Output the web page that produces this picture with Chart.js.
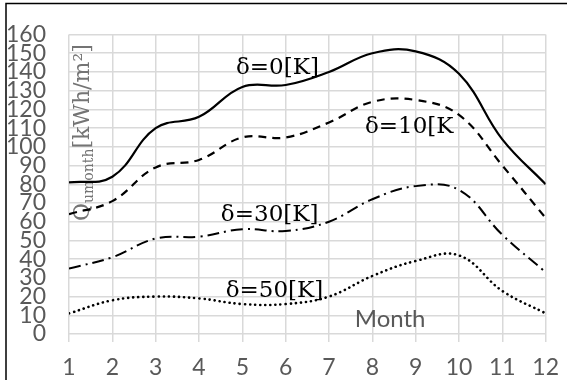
<!DOCTYPE html>
<html>
<head>
<meta charset="utf-8">
<script src="https://cdn.jsdelivr.net/npm/chart.js@4/dist/chart.umd.min.js"></script>
<style>
  html, body { margin: 0; padding: 0; background: #fff; }
  #wrap { width: 571px; height: 380px; position: relative; }
</style>
</head>
<body>
<div id="wrap"><canvas id="c" width="571" height="380"></canvas></div>
<script>
// Months on the horizontal axis
const months = [1, 2, 3, 4, 5, 6, 7, 8, 9, 10, 11, 12];

// Monthly useful energy Q_umonth [kWh/m²] for each temperature difference δ
const delta0  = [81, 84, 110, 116, 132, 133, 140, 150, 151, 139, 104, 80];
const delta10 = [64, 71, 89, 93, 105, 105, 113, 124, 125, 117, 90, 62];
const delta30 = [35, 41, 51, 52, 56, 55, 60, 72, 79, 77, 53, 33];
const delta50 = [11, 18, 20, 19, 16, 16, 20, 31, 39, 42, 23, 11];

// Curve labels: text and anchor in data units (month, value)
const curveLabels = ['δ=0[K]', 'δ=10[K', 'δ=30[K]', 'δ=50[K]'];
const curveLabelX = [5.81, 8.85, 5.63, 5.74];
const curveLabelY = [142, 110.7, 63.5, 22.8];

// Axis texts
const yTitleMain = 'Q';
const yTitleSub = 'umonth';
const yTitleUnit = '[kWh/m²]';
const xTitle = 'Month';
const xTitleAt = [8.41, 8.1];

const toPoints = arr => arr.map((v, i) => ({ x: months[i], y: v }));

const gray = '#595959';
const gridColor = '#d9d9d9';

const textPlugin = {
  id: 'texts',
  afterDatasetsDraw(chart) {
    const ctx = chart.ctx;
    const xs = chart.scales.x, ys = chart.scales.y;
    ctx.save();
    // curve labels
    ctx.fillStyle = '#000';
    ctx.font = '23px "DejaVu Serif"';
    ctx.textAlign = 'center';
    ctx.textBaseline = 'middle';
    curveLabels.forEach((t, i) => {
      ctx.fillText(t, xs.getPixelForValue(curveLabelX[i]), ys.getPixelForValue(curveLabelY[i]));
    });
    // x axis title inside the plot
    ctx.fillStyle = gray;
    ctx.font = '24px Lato';
    ctx.fillText(xTitle, xs.getPixelForValue(xTitleAt[0]), ys.getPixelForValue(xTitleAt[1]));
    ctx.restore();
  },
  beforeDatasetsDraw(chart) {
    const ctx = chart.ctx;
    const area = chart.chartArea;
    ctx.save();
    // rotated y axis title
    ctx.translate(area.left + 20, 221);
    ctx.rotate(-Math.PI / 2);
    ctx.fillStyle = '#747474';
    ctx.textAlign = 'left';
    ctx.textBaseline = 'alphabetic';
    ctx.font = '22px "DejaVu Serif"';
    let x = 0;
    ctx.fillText(yTitleMain, x, 0);
    x += ctx.measureText(yTitleMain).width;
    ctx.font = '14px "DejaVu Serif"';
    ctx.fillText(yTitleSub, x, 4);
    x += ctx.measureText(yTitleSub).width;
    ctx.font = '22px "DejaVu Serif"';
    ctx.fillText(yTitleUnit, x, 0);
    ctx.restore();
  },
  afterDraw(chart) {
    // outer frame edges
    const ctx = chart.ctx;
    ctx.save();
    ctx.strokeStyle = '#000';
    ctx.lineWidth = 1.5;
    ctx.beginPath();
    ctx.moveTo(6, 380);
    ctx.lineTo(6, 3.5);
    ctx.lineTo(567, 3.5);
    ctx.stroke();
    ctx.restore();
  }
};

const common = { borderColor: '#000', pointRadius: 0, fill: false, tension: 0.4 };

new Chart(document.getElementById('c'), {
  type: 'line',
  data: {
    datasets: [
      { ...common, label: 'δ=0[K]', data: toPoints(delta0), borderWidth: 2.2 },
      { ...common, label: 'δ=10[K]', data: toPoints(delta10), borderWidth: 2.2, borderDash: [8, 6] },
      { ...common, label: 'δ=30[K]', data: toPoints(delta30), borderWidth: 2, borderDash: [12, 5, 2, 5] },
      { ...common, label: 'δ=50[K]', data: toPoints(delta50), borderWidth: 2.6, borderDash: [0.1, 5], borderCapStyle: 'round' }
    ]
  },
  options: {
    responsive: false,
    animation: false,
    layout: { padding: { left: 0, top: 19, right: 24, bottom: 0 } },
    plugins: { legend: { display: false }, tooltip: { enabled: false } },
    scales: {
      x: {
        type: 'linear',
        min: 1, max: 12,
        afterFit(scale) { scale.height = 46; },
        ticks: { stepSize: 1, autoSkip: false, color: gray, font: { family: 'Lato', size: 23 }, padding: 12, maxRotation: 0 },
        grid: { color: gridColor, lineWidth: 1.5, tickLength: 8, drawTicks: true },
        border: { display: false }
      },
      y: {
        min: 0, max: 160,
        afterFit(scale) { scale.width = 69; },
        ticks: { stepSize: 10, autoSkip: false, color: gray, font: { family: 'Lato', size: 23, lineHeight: 1 }, padding: 23 },
        grid: { color: gridColor, lineWidth: 1.5, drawTicks: false },
        border: { display: false }
      }
    }
  },
  plugins: [textPlugin]
});
</script>
</body>
</html>
